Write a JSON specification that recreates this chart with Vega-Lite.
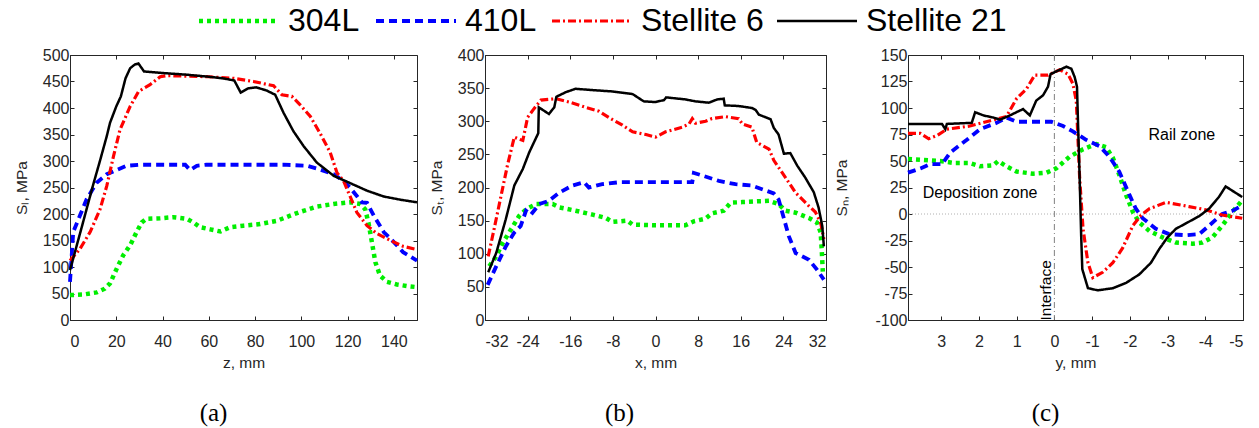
{
"$schema": "https://vega.github.io/schema/vega-lite/v6.json",
"padding": {"left": 13, "top": 5, "right": 5, "bottom": 5},
"config": {
 "font": "Liberation Sans",
 "view": {"stroke": "#262626", "strokeWidth": 1},
 "axis": {"grid": false, "minExtent": 0, "domainColor": "#262626", "tickColor": "#262626", "labelColor": "#262626", "titleColor": "#262626", "labelFontSize": 16, "titleFontSize": 15.5, "titleFontWeight": "normal", "labelFont": "Liberation Sans", "titleFont": "Liberation Sans", "tickSize": -4, "labelExpr": "'' + datum.value"},
 "axisX": {"labelPadding": 17, "titlePadding": 6},
 "axisY": {"labelPadding": 5, "titlePadding": 13},
 "title": {"font": "Liberation Serif", "fontSize": 25, "fontWeight": "normal", "color": "#000000", "orient": "bottom", "offset": 30},
 "legend": {"orient": "none", "legendX": 125, "legendY": -50, "direction": "horizontal", "labelFontSize": 32, "labelFont": "Liberation Sans", "labelColor": "#000000", "symbolType": "M-4,0H4", "symbolSize": 400, "symbolOffset": 28, "columnPadding": 8, "labelOffset": 33, "labelLimit": 400}
},
"datasets": {
 "a": [
  {"series":"304L","x":0,"y":47},{"series":"304L","x":5.8,"y":48},{"series":"304L","x":11.5,"y":52},{"series":"304L","x":15,"y":59},{"series":"304L","x":17.3,"y":69},{"series":"304L","x":20.2,"y":97},{"series":"304L","x":23,"y":122},{"series":"304L","x":26,"y":141},{"series":"304L","x":28.8,"y":166},{"series":"304L","x":31,"y":184},{"series":"304L","x":33,"y":191},{"series":"304L","x":39,"y":192},{"series":"304L","x":44.7,"y":194},{"series":"304L","x":50.5,"y":191},{"series":"304L","x":53.4,"y":184},{"series":"304L","x":56.3,"y":175},{"series":"304L","x":60.6,"y":171},{"series":"304L","x":65,"y":167},{"series":"304L","x":69.2,"y":175},{"series":"304L","x":75,"y":178},{"series":"304L","x":82.2,"y":181},{"series":"304L","x":89.4,"y":187},{"series":"304L","x":95.2,"y":197},{"series":"304L","x":99.5,"y":204},{"series":"304L","x":106.7,"y":214},{"series":"304L","x":114,"y":219},{"series":"304L","x":121,"y":222},{"series":"304L","x":125.5,"y":219},{"series":"304L","x":127.6,"y":209},{"series":"304L","x":129,"y":184},{"series":"304L","x":130.5,"y":147},{"series":"304L","x":132,"y":109},{"series":"304L","x":134,"y":84},{"series":"304L","x":137,"y":72},{"series":"304L","x":141.3,"y":67},{"series":"304L","x":145.7,"y":64},{"series":"304L","x":150,"y":62},
  {"series":"410L","x":0,"y":72},{"series":"410L","x":1.4,"y":166},{"series":"410L","x":4.3,"y":197},{"series":"410L","x":7.2,"y":228},{"series":"410L","x":11.5,"y":259},{"series":"410L","x":15.9,"y":275},{"series":"410L","x":20.2,"y":283},{"series":"410L","x":24.5,"y":291},{"series":"410L","x":30.3,"y":293},{"series":"410L","x":49.8,"y":293},{"series":"410L","x":51.9,"y":283},{"series":"410L","x":54.8,"y":291},{"series":"410L","x":59,"y":293},{"series":"410L","x":92.3,"y":293},{"series":"410L","x":102.4,"y":291},{"series":"410L","x":108,"y":284},{"series":"410L","x":114,"y":275},{"series":"410L","x":118.3,"y":262},{"series":"410L","x":121,"y":250},{"series":"410L","x":124,"y":234},{"series":"410L","x":126.2,"y":222},{"series":"410L","x":128.4,"y":221},{"series":"410L","x":131.3,"y":197},{"series":"410L","x":135.6,"y":166},{"series":"410L","x":140,"y":147},{"series":"410L","x":144,"y":128},{"series":"410L","x":150,"y":112},
  {"series":"Stellite 6","x":0,"y":112},{"series":"Stellite 6","x":4.3,"y":134},{"series":"Stellite 6","x":8.7,"y":166},{"series":"Stellite 6","x":13,"y":209},{"series":"Stellite 6","x":15.9,"y":253},{"series":"Stellite 6","x":18.8,"y":309},{"series":"Stellite 6","x":21.6,"y":359},{"series":"Stellite 6","x":26,"y":403},{"series":"Stellite 6","x":29.6,"y":431},{"series":"Stellite 6","x":34.6,"y":444},{"series":"Stellite 6","x":39,"y":459},{"series":"Stellite 6","x":41.8,"y":461},{"series":"Stellite 6","x":60,"y":459},{"series":"Stellite 6","x":70.7,"y":456},{"series":"Stellite 6","x":79.3,"y":450},{"series":"Stellite 6","x":88,"y":442},{"series":"Stellite 6","x":91.6,"y":425},{"series":"Stellite 6","x":95.9,"y":422},{"series":"Stellite 6","x":99.5,"y":406},{"series":"Stellite 6","x":103.9,"y":384},{"series":"Stellite 6","x":108,"y":353},{"series":"Stellite 6","x":112.5,"y":316},{"series":"Stellite 6","x":115.4,"y":278},{"series":"Stellite 6","x":118.3,"y":262},{"series":"Stellite 6","x":121,"y":234},{"series":"Stellite 6","x":124,"y":203},{"series":"Stellite 6","x":128.4,"y":178},{"series":"Stellite 6","x":132.7,"y":163},{"series":"Stellite 6","x":138.5,"y":150},{"series":"Stellite 6","x":144,"y":139},{"series":"Stellite 6","x":150,"y":133},
  {"series":"Stellite 21","x":0,"y":94},{"series":"Stellite 21","x":5,"y":174},{"series":"Stellite 21","x":10,"y":255},{"series":"Stellite 21","x":13,"y":301},{"series":"Stellite 21","x":15.9,"y":347},{"series":"Stellite 21","x":17.3,"y":372},{"series":"Stellite 21","x":20,"y":403},{"series":"Stellite 21","x":22,"y":422},{"series":"Stellite 21","x":24,"y":456},{"series":"Stellite 21","x":26,"y":475},{"series":"Stellite 21","x":28,"y":482},{"series":"Stellite 21","x":29.6,"y":484},{"series":"Stellite 21","x":32,"y":469},{"series":"Stellite 21","x":40,"y":466},{"series":"Stellite 21","x":50,"y":463},{"series":"Stellite 21","x":60,"y":459},{"series":"Stellite 21","x":66,"y":456},{"series":"Stellite 21","x":71,"y":452},{"series":"Stellite 21","x":73.8,"y":429},{"series":"Stellite 21","x":77,"y":437},{"series":"Stellite 21","x":80.5,"y":439},{"series":"Stellite 21","x":85,"y":433},{"series":"Stellite 21","x":88.7,"y":425},{"series":"Stellite 21","x":92.3,"y":391},{"series":"Stellite 21","x":96.6,"y":356},{"series":"Stellite 21","x":101,"y":328},{"series":"Stellite 21","x":106.7,"y":297},{"series":"Stellite 21","x":114,"y":272},{"series":"Stellite 21","x":119.7,"y":261},{"series":"Stellite 21","x":128.4,"y":244},{"series":"Stellite 21","x":135.6,"y":233},{"series":"Stellite 21","x":142.8,"y":227},{"series":"Stellite 21","x":150,"y":222}
 ],
 "b": [
  {"series":"304L","x":-31.2,"y":81},{"series":"304L","x":-29.9,"y":96},{"series":"304L","x":-28.7,"y":116},{"series":"304L","x":-27.1,"y":137},{"series":"304L","x":-25.6,"y":157},{"series":"304L","x":-24.3,"y":167},{"series":"304L","x":-22.4,"y":175},{"series":"304L","x":-19.3,"y":175},{"series":"304L","x":-18.1,"y":170},{"series":"304L","x":-15,"y":165},{"series":"304L","x":-11.8,"y":159},{"series":"304L","x":-9.3,"y":154},{"series":"304L","x":-8.1,"y":148},{"series":"304L","x":-5.3,"y":150},{"series":"304L","x":-4.3,"y":144},{"series":"304L","x":-0.6,"y":143},{"series":"304L","x":5.6,"y":143},{"series":"304L","x":7.2,"y":149},{"series":"304L","x":9.4,"y":153},{"series":"304L","x":10.6,"y":161},{"series":"304L","x":12.8,"y":165},{"series":"304L","x":14.1,"y":177},{"series":"304L","x":16.3,"y":178},{"series":"304L","x":21.3,"y":180},{"series":"304L","x":23.1,"y":175},{"series":"304L","x":24.4,"y":165},{"series":"304L","x":26.3,"y":162},{"series":"304L","x":28.8,"y":154},{"series":"304L","x":30.3,"y":147},{"series":"304L","x":31,"y":132},{"series":"304L","x":31.2,"y":106},{"series":"304L","x":31.4,"y":73},
  {"series":"410L","x":-31.5,"y":53},{"series":"410L","x":-29.9,"y":81},{"series":"410L","x":-28.1,"y":111},{"series":"410L","x":-26.5,"y":132},{"series":"410L","x":-25.3,"y":142},{"series":"410L","x":-24.3,"y":165},{"series":"410L","x":-23.4,"y":159},{"series":"410L","x":-21.8,"y":175},{"series":"410L","x":-20,"y":180},{"series":"410L","x":-18.1,"y":192},{"series":"410L","x":-15.6,"y":203},{"series":"410L","x":-13.4,"y":208},{"series":"410L","x":-12.5,"y":200},{"series":"410L","x":-10,"y":205},{"series":"410L","x":-6.8,"y":208},{"series":"410L","x":-0.6,"y":208},{"series":"410L","x":6.9,"y":208},{"series":"410L","x":7.2,"y":222},{"series":"410L","x":8.8,"y":218},{"series":"410L","x":11.9,"y":210},{"series":"410L","x":15,"y":205},{"series":"410L","x":18.1,"y":203},{"series":"410L","x":22.2,"y":191},{"series":"410L","x":23.1,"y":182},{"series":"410L","x":23.8,"y":162},{"series":"410L","x":25,"y":127},{"series":"410L","x":26.3,"y":101},{"series":"410L","x":28.8,"y":91},{"series":"410L","x":30.3,"y":76},{"series":"410L","x":31.6,"y":61},
  {"series":"Stellite 6","x":-31.4,"y":96},{"series":"Stellite 6","x":-30.3,"y":137},{"series":"Stellite 6","x":-29,"y":187},{"series":"Stellite 6","x":-27.8,"y":233},{"series":"Stellite 6","x":-26.5,"y":276},{"series":"Stellite 6","x":-25.6,"y":273},{"series":"Stellite 6","x":-24.9,"y":271},{"series":"Stellite 6","x":-24,"y":306},{"series":"Stellite 6","x":-22.8,"y":319},{"series":"Stellite 6","x":-21.5,"y":332},{"series":"Stellite 6","x":-18.7,"y":334},{"series":"Stellite 6","x":-16.2,"y":329},{"series":"Stellite 6","x":-13.1,"y":321},{"series":"Stellite 6","x":-10.6,"y":315},{"series":"Stellite 6","x":-8.4,"y":304},{"series":"Stellite 6","x":-6.2,"y":294},{"series":"Stellite 6","x":-4.3,"y":284},{"series":"Stellite 6","x":-1.8,"y":280},{"series":"Stellite 6","x":0,"y":276},{"series":"Stellite 6","x":1.9,"y":284},{"series":"Stellite 6","x":5,"y":291},{"series":"Stellite 6","x":6.3,"y":296},{"series":"Stellite 6","x":6.9,"y":304},{"series":"Stellite 6","x":7.5,"y":297},{"series":"Stellite 6","x":9.4,"y":300},{"series":"Stellite 6","x":10.6,"y":304},{"series":"Stellite 6","x":13.1,"y":307},{"series":"Stellite 6","x":15.6,"y":304},{"series":"Stellite 6","x":16.3,"y":296},{"series":"Stellite 6","x":18.1,"y":291},{"series":"Stellite 6","x":19,"y":268},{"series":"Stellite 6","x":21.3,"y":258},{"series":"Stellite 6","x":22.2,"y":241},{"series":"Stellite 6","x":24.4,"y":215},{"series":"Stellite 6","x":26.3,"y":192},{"series":"Stellite 6","x":28.8,"y":172},{"series":"Stellite 6","x":30,"y":163},{"series":"Stellite 6","x":31,"y":147},{"series":"Stellite 6","x":31.6,"y":122},
  {"series":"Stellite 21","x":-31.4,"y":72},{"series":"Stellite 21","x":-29.9,"y":101},{"series":"Stellite 21","x":-28.1,"y":152},{"series":"Stellite 21","x":-26.5,"y":203},{"series":"Stellite 21","x":-24.9,"y":228},{"series":"Stellite 21","x":-23.7,"y":253},{"series":"Stellite 21","x":-22,"y":282},{"series":"Stellite 21","x":-21.9,"y":321},{"series":"Stellite 21","x":-20,"y":311},{"series":"Stellite 21","x":-19,"y":321},{"series":"Stellite 21","x":-18.6,"y":337},{"series":"Stellite 21","x":-16.8,"y":344},{"series":"Stellite 21","x":-15,"y":349},{"series":"Stellite 21","x":-11.8,"y":347},{"series":"Stellite 21","x":-8.1,"y":345},{"series":"Stellite 21","x":-4.3,"y":341},{"series":"Stellite 21","x":-2.2,"y":330},{"series":"Stellite 21","x":0,"y":329},{"series":"Stellite 21","x":1.6,"y":332},{"series":"Stellite 21","x":2,"y":336},{"series":"Stellite 21","x":5.6,"y":333},{"series":"Stellite 21","x":7.5,"y":330},{"series":"Stellite 21","x":10,"y":328},{"series":"Stellite 21","x":11.6,"y":333},{"series":"Stellite 21","x":12.8,"y":334},{"series":"Stellite 21","x":13,"y":324},{"series":"Stellite 21","x":15.6,"y":323},{"series":"Stellite 21","x":18.1,"y":320},{"series":"Stellite 21","x":18.8,"y":317},{"series":"Stellite 21","x":19.4,"y":310},{"series":"Stellite 21","x":21.6,"y":303},{"series":"Stellite 21","x":22.2,"y":290},{"series":"Stellite 21","x":23.1,"y":280},{"series":"Stellite 21","x":24.1,"y":251},{"series":"Stellite 21","x":25.3,"y":252},{"series":"Stellite 21","x":26.6,"y":233},{"series":"Stellite 21","x":28.1,"y":215},{"series":"Stellite 21","x":29.7,"y":193},{"series":"Stellite 21","x":30.6,"y":170},{"series":"Stellite 21","x":31.3,"y":142},{"series":"Stellite 21","x":31.6,"y":111}
 ],
 "c": [
  {"series":"304L","x":3.88,"y":52},{"series":"304L","x":3.47,"y":51},{"series":"304L","x":3.03,"y":50},{"series":"304L","x":2.63,"y":48},{"series":"304L","x":2.23,"y":48},{"series":"304L","x":1.97,"y":45},{"series":"304L","x":1.62,"y":46},{"series":"304L","x":1.49,"y":50},{"series":"304L","x":1.27,"y":45},{"series":"304L","x":1.0,"y":40},{"series":"304L","x":0.56,"y":38},{"series":"304L","x":0.21,"y":39},{"series":"304L","x":-0.05,"y":43},{"series":"304L","x":-0.4,"y":54},{"series":"304L","x":-0.76,"y":61},{"series":"304L","x":-1.11,"y":66},{"series":"304L","x":-1.37,"y":63},{"series":"304L","x":-1.55,"y":53},{"series":"304L","x":-1.72,"y":37},{"series":"304L","x":-1.9,"y":18},{"series":"304L","x":-2.08,"y":2},{"series":"304L","x":-2.25,"y":-8},{"series":"304L","x":-2.52,"y":-16},{"series":"304L","x":-2.87,"y":-22},{"series":"304L","x":-3.22,"y":-27},{"series":"304L","x":-3.66,"y":-28},{"series":"304L","x":-3.92,"y":-27},{"series":"304L","x":-4.19,"y":-22},{"series":"304L","x":-4.45,"y":-11},{"series":"304L","x":-4.72,"y":2},{"series":"304L","x":-4.98,"y":13},
  {"series":"410L","x":3.88,"y":39},{"series":"410L","x":3.55,"y":43},{"series":"410L","x":3.29,"y":47},{"series":"410L","x":2.98,"y":47},{"series":"410L","x":2.76,"y":58},{"series":"410L","x":2.32,"y":70},{"series":"410L","x":1.97,"y":80},{"series":"410L","x":1.53,"y":86},{"series":"410L","x":1.27,"y":91},{"series":"410L","x":1.0,"y":87},{"series":"410L","x":0.48,"y":87},{"series":"410L","x":0.08,"y":87},{"series":"410L","x":-0.23,"y":83},{"series":"410L","x":-0.49,"y":78},{"series":"410L","x":-0.84,"y":70},{"series":"410L","x":-1.2,"y":64},{"series":"410L","x":-1.46,"y":54},{"series":"410L","x":-1.72,"y":40},{"series":"410L","x":-1.99,"y":18},{"series":"410L","x":-2.16,"y":5},{"series":"410L","x":-2.34,"y":-4},{"series":"410L","x":-2.69,"y":-14},{"series":"410L","x":-3.04,"y":-19},{"series":"410L","x":-3.48,"y":-20},{"series":"410L","x":-3.84,"y":-19},{"series":"410L","x":-4.1,"y":-11},{"series":"410L","x":-4.45,"y":0},{"series":"410L","x":-4.72,"y":3},{"series":"410L","x":-4.98,"y":8},
  {"series":"Stellite 6","x":3.88,"y":76},{"series":"Stellite 6","x":3.55,"y":76},{"series":"Stellite 6","x":3.33,"y":71},{"series":"Stellite 6","x":3.11,"y":74},{"series":"Stellite 6","x":2.85,"y":80},{"series":"Stellite 6","x":2.24,"y":83},{"series":"Stellite 6","x":1.7,"y":88},{"series":"Stellite 6","x":1.27,"y":92},{"series":"Stellite 6","x":1.0,"y":109},{"series":"Stellite 6","x":0.74,"y":118},{"series":"Stellite 6","x":0.52,"y":131},{"series":"Stellite 6","x":0.17,"y":131},{"series":"Stellite 6","x":-0.14,"y":136},{"series":"Stellite 6","x":-0.36,"y":132},{"series":"Stellite 6","x":-0.49,"y":123},{"series":"Stellite 6","x":-0.58,"y":107},{"series":"Stellite 6","x":-0.62,"y":75},{"series":"Stellite 6","x":-0.67,"y":34},{"series":"Stellite 6","x":-0.76,"y":-14},{"series":"Stellite 6","x":-0.89,"y":-46},{"series":"Stellite 6","x":-1.02,"y":-60},{"series":"Stellite 6","x":-1.28,"y":-55},{"series":"Stellite 6","x":-1.55,"y":-46},{"series":"Stellite 6","x":-1.81,"y":-32},{"series":"Stellite 6","x":-2.08,"y":-11},{"series":"Stellite 6","x":-2.3,"y":-1},{"series":"Stellite 6","x":-2.52,"y":5},{"series":"Stellite 6","x":-2.96,"y":11},{"series":"Stellite 6","x":-3.57,"y":7},{"series":"Stellite 6","x":-4.01,"y":4},{"series":"Stellite 6","x":-4.45,"y":-1},{"series":"Stellite 6","x":-4.98,"y":-4},
  {"series":"Stellite 21","x":3.88,"y":85},{"series":"Stellite 21","x":2.98,"y":85},{"series":"Stellite 21","x":2.89,"y":80},{"series":"Stellite 21","x":2.85,"y":85},{"series":"Stellite 21","x":2.19,"y":86},{"series":"Stellite 21","x":2.1,"y":96},{"series":"Stellite 21","x":1.88,"y":93},{"series":"Stellite 21","x":1.62,"y":91},{"series":"Stellite 21","x":1.44,"y":89},{"series":"Stellite 21","x":1.18,"y":93},{"series":"Stellite 21","x":0.83,"y":99},{"series":"Stellite 21","x":0.65,"y":93},{"series":"Stellite 21","x":0.48,"y":107},{"series":"Stellite 21","x":0.3,"y":112},{"series":"Stellite 21","x":0.17,"y":120},{"series":"Stellite 21","x":0.1,"y":132},{"series":"Stellite 21","x":-0.14,"y":136},{"series":"Stellite 21","x":-0.32,"y":139},{"series":"Stellite 21","x":-0.45,"y":137},{"series":"Stellite 21","x":-0.54,"y":129},{"series":"Stellite 21","x":-0.6,"y":120},{"series":"Stellite 21","x":-0.63,"y":82},{"series":"Stellite 21","x":-0.67,"y":34},{"series":"Stellite 21","x":-0.71,"y":-20},{"series":"Stellite 21","x":-0.74,"y":-52},{"series":"Stellite 21","x":-0.89,"y":-70},{"series":"Stellite 21","x":-1.15,"y":-72},{"series":"Stellite 21","x":-1.55,"y":-70},{"series":"Stellite 21","x":-1.9,"y":-65},{"series":"Stellite 21","x":-2.25,"y":-57},{"series":"Stellite 21","x":-2.56,"y":-46},{"series":"Stellite 21","x":-2.78,"y":-33},{"series":"Stellite 21","x":-3.0,"y":-22},{"series":"Stellite 21","x":-3.22,"y":-14},{"series":"Stellite 21","x":-3.53,"y":-8},{"series":"Stellite 21","x":-3.84,"y":-2},{"series":"Stellite 21","x":-4.1,"y":5},{"series":"Stellite 21","x":-4.36,"y":16},{"series":"Stellite 21","x":-4.54,"y":26},{"series":"Stellite 21","x":-4.76,"y":21},{"series":"Stellite 21","x":-4.98,"y":16}
 ],
 "cref": [{"x":0,"y":0}],
 "notes": [{"x":-3.38,"y":75,"label":"Rail zone"},{"x":1.97,"y":20,"label":"Deposition zone"}],
 "iface": [{"x":0.21,"y":-72,"label":"Interface"}]
},
"spacing": 1,
"resolve": {"scale": {"color": "shared", "strokeDash": "shared", "strokeWidth": "shared"}, "legend": {"color": "shared", "strokeDash": "shared", "strokeWidth": "shared"}},
"hconcat": [
 {
  "width": 347, "height": 265,
  "title": {"text": "(a)", "dx": -30},
  "data": {"name": "a"},
  "resolve": {"axis": {"x": "independent", "y": "independent"}},
  "layer": [
   {"mark": {"type": "line", "strokeCap": "butt"},
    "encoding": {
     "x": {"field": "x", "type": "quantitative", "scale": {"domain": [0, 150], "nice": false}, "axis": {"values": [0,20,40,60,80,100,120,140], "title": "z, mm"}},
     "y": {"field": "y", "type": "quantitative", "scale": {"domain": [0, 500], "nice": false}, "axis": {"values": [0,50,100,150,200,250,300,350,400,450,500], "title": "Sₗ, MPa"}},
     "color": {"field": "series", "type": "nominal", "title": null, "scale": {"domain": ["304L","410L","Stellite 6","Stellite 21"], "range": ["#00ee00","#0000ff","#ff0000","#000000"]}},
     "strokeDash": {"field": "series", "type": "nominal", "title": null, "scale": {"domain": ["304L","410L","Stellite 6","Stellite 21"], "range": [[4,4],[8,5],[8,3,2,3],[1,0]]}},
     "strokeWidth": {"field": "series", "type": "nominal", "title": null, "scale": {"domain": ["304L","410L","Stellite 6","Stellite 21"], "range": [4.5,2.5,2,2.5]}}
    }},
   {"mark": {"type": "point", "opacity": 0},
    "encoding": {
     "x": {"field": "x", "type": "quantitative", "axis": {"orient": "top", "labels": false, "title": null, "domain": false, "values": [0,20,40,60,80,100,120,140]}},
     "y": {"field": "y", "type": "quantitative", "axis": {"orient": "right", "labels": false, "title": null, "domain": false, "values": [0,50,100,150,200,250,300,350,400,450,500]}}
    }}
  ]
 },
 {
  "width": 341, "height": 265,
  "title": {"text": "(b)", "dx": -36},
  "data": {"name": "b"},
  "resolve": {"axis": {"x": "independent", "y": "independent"}},
  "layer": [
   {"mark": {"type": "line", "strokeCap": "butt"},
    "encoding": {
     "x": {"field": "x", "type": "quantitative", "scale": {"domain": [-32, 32], "nice": false}, "axis": {"values": [-32,-24,-16,-8,0,8,16,24,32], "title": "x, mm"}},
     "y": {"field": "y", "type": "quantitative", "scale": {"domain": [0, 400], "nice": false}, "axis": {"values": [0,50,100,150,200,250,300,350,400], "title": "Sₜ, MPa"}},
     "color": {"field": "series", "type": "nominal", "title": null},
     "strokeDash": {"field": "series", "type": "nominal", "title": null},
     "strokeWidth": {"field": "series", "type": "nominal", "title": null}
    }},
   {"mark": {"type": "point", "opacity": 0},
    "encoding": {
     "x": {"field": "x", "type": "quantitative", "axis": {"orient": "top", "labels": false, "title": null, "domain": false, "values": [-32,-24,-16,-8,0,8,16,24,32]}},
     "y": {"field": "y", "type": "quantitative", "axis": {"orient": "right", "labels": false, "title": null, "domain": false, "values": [0,50,100,150,200,250,300,350,400]}}
    }}
  ]
 },
 {
  "width": 335, "height": 265,
  "title": {"text": "(c)", "dx": -30},
  "resolve": {"axis": {"x": "independent", "y": "independent"}},
  "layer": [
   {"data": {"name": "cref"}, "mark": {"type": "rule", "color": "#808080", "strokeWidth": 1, "strokeDash": [6,3,1,3]},
    "encoding": {"x": {"field": "x", "type": "quantitative", "axis": null}}},
   {"data": {"name": "cref"}, "mark": {"type": "rule", "color": "#b0b0b0", "strokeWidth": 1, "strokeDash": [1,2]},
    "encoding": {"y": {"field": "y", "type": "quantitative", "axis": null}}},
   {"data": {"name": "c"}, "mark": {"type": "line", "strokeCap": "butt"},
    "encoding": {
     "x": {"field": "x", "type": "quantitative", "scale": {"domain": [-5, 3.88], "nice": false, "reverse": true}, "axis": {"values": [3,2,1,0,-1,-2,-3,-4,-5], "title": "y, mm"}},
     "y": {"field": "y", "type": "quantitative", "scale": {"domain": [-100, 150], "nice": false}, "axis": {"values": [-100,-75,-50,-25,0,25,50,75,100,125,150], "title": "Sₙ, MPa", "titlePadding": 25}},
     "color": {"field": "series", "type": "nominal", "title": null},
     "strokeDash": {"field": "series", "type": "nominal", "title": null},
     "strokeWidth": {"field": "series", "type": "nominal", "title": null}
    }},
   {"data": {"name": "c"}, "mark": {"type": "point", "opacity": 0},
    "encoding": {
     "x": {"field": "x", "type": "quantitative", "axis": {"orient": "top", "labels": false, "title": null, "domain": false, "values": [3,2,1,0,-1,-2,-3,-4,-5]}},
     "y": {"field": "y", "type": "quantitative", "axis": {"orient": "right", "labels": false, "title": null, "domain": false, "values": [-100,-75,-50,-25,0,25,50,75,100,125,150]}}
    }},
   {"data": {"name": "notes"}, "mark": {"type": "text", "fontSize": 16, "font": "Liberation Sans", "color": "#000000"},
    "encoding": {"x": {"field": "x", "type": "quantitative", "axis": null}, "y": {"field": "y", "type": "quantitative", "axis": null}, "text": {"field": "label"}}},
   {"data": {"name": "iface"}, "mark": {"type": "text", "fontSize": 15.5, "font": "Liberation Sans", "color": "#000000", "angle": 270},
    "encoding": {"x": {"field": "x", "type": "quantitative", "axis": null}, "y": {"field": "y", "type": "quantitative", "axis": null}, "text": {"field": "label"}}}
  ]
 }
]
}
